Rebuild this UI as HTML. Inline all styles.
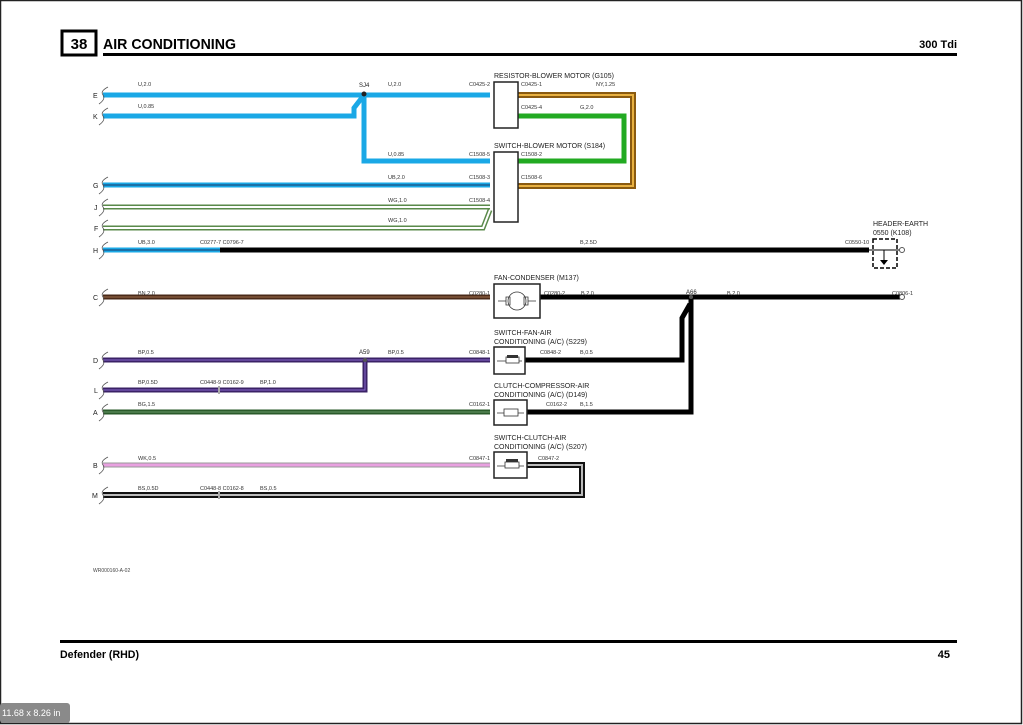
<!DOCTYPE html>
<html><head><meta charset="utf-8"><style>
html,body{margin:0;padding:0;background:#fff}
svg{display:block}
text{font-family:"Liberation Sans",sans-serif}
.s{font-size:5.5px;fill:#333}
.c{font-size:7px;fill:#222}
</style></head><body>
<svg width="1023" height="725" viewBox="0 0 1023 725" xmlns="http://www.w3.org/2000/svg">
<rect x="0.5" y="0.5" width="1021" height="723" fill="#fff" stroke="#222" stroke-width="1.5"/>
<!-- header -->
<rect x="62" y="31" width="34" height="24" fill="#fff" stroke="#000" stroke-width="3"/>
<text x="79" y="49" font-size="15" font-weight="bold" text-anchor="middle">38</text>
<text x="103" y="49" font-size="15" font-weight="bold" textLength="133" lengthAdjust="spacingAndGlyphs">AIR CONDITIONING</text>
<line x1="103" y1="54.5" x2="957" y2="54.5" stroke="#000" stroke-width="3"/>
<text x="957" y="48" font-size="11" font-weight="bold" text-anchor="end">300 Tdi</text>
<!-- footer -->
<line x1="60" y1="641.5" x2="957" y2="641.5" stroke="#000" stroke-width="3"/>
<text x="60" y="658" font-size="11" font-weight="bold" textLength="79" lengthAdjust="spacingAndGlyphs">Defender (RHD)</text>
<text x="950" y="658" font-size="11" font-weight="bold" text-anchor="end">45</text>
<text x="93" y="572" font-size="5" fill="#444">WR000160-A-02</text>
<rect x="0" y="703" width="70" height="20" rx="3" fill="#8a8a8a"/>
<text x="2" y="716" font-size="9" fill="#fff">11.68 x 8.26 in</text>

<g fill="none" stroke-linejoin="miter">
<path d="M103 95H490" stroke="#1aa8e6" stroke-width="5"/>
<path d="M103 116H354V108L364 95" stroke="#1aa8e6" stroke-width="5"/>
<path d="M364 95V161H490" stroke="#1aa8e6" stroke-width="5"/>
<path d="M103 185H490" stroke="#1aa8e6" stroke-width="5"/>
<path d="M103 185H490" stroke="#1a3a6a" stroke-width="1"/>
<path d="M103 207H490" stroke="#5a8a4a" stroke-width="5"/>
<path d="M103 207H490" stroke="#fff" stroke-width="2"/>
<path d="M103 228H483L490 210" stroke="#5a8a4a" stroke-width="5"/>
<path d="M103 228H483L490 210" stroke="#fff" stroke-width="2"/>
<path d="M103 250H220" stroke="#1aa8e6" stroke-width="5"/>
<path d="M103 250H220" stroke="#1a3a6a" stroke-width="1"/>
<path d="M220 250H869" stroke="#000" stroke-width="5"/>
<path d="M518 95H633V186H518" stroke="#8a5a10" stroke-width="6"/>
<path d="M518 95H633V186H518" stroke="#e8b040" stroke-width="2"/>
<path d="M518 116H624V161H518" stroke="#22aa22" stroke-width="5"/>
<path d="M103 297H490" stroke="#4a2a18" stroke-width="5"/>
<path d="M103 297H490" stroke="#a07050" stroke-width="1"/>
<path d="M540 297H900" stroke="#000" stroke-width="5"/>
<path d="M103 360H490" stroke="#3a2266" stroke-width="5"/>
<path d="M103 360H490" stroke="#8a6ad0" stroke-width="1"/>
<path d="M103 390H365V360" stroke="#3a2266" stroke-width="5"/>
<path d="M103 390H365V360" stroke="#8a6ad0" stroke-width="1"/>
<path d="M525 360H682V318L690 304" stroke="#000" stroke-width="5"/>
<path d="M103 412H490" stroke="#2a5a2a" stroke-width="5"/>
<path d="M103 412H490" stroke="#6a9a6a" stroke-width="1"/>
<path d="M527 412H691V297" stroke="#000" stroke-width="5"/>
<path d="M103 465H490" stroke="#999" stroke-width="5"/>
<path d="M103 465H490" stroke="#e8a0e0" stroke-width="3"/>
<path d="M527 465H582V495H103" stroke="#111" stroke-width="6"/>
<path d="M527 465H582V495H103" stroke="#bbb" stroke-width="2"/>
</g>
<circle cx="364" cy="94" r="2.5" fill="#222"/>
<circle cx="365" cy="360" r="2" fill="#555"/>
<circle cx="691" cy="297" r="2" fill="#555"/>
<g fill="#aaa"><rect x="218" y="386" width="2" height="8"/><rect x="218" y="491" width="2" height="8"/></g>
<g fill="none" stroke="#555" stroke-width="0.8">
<path d="M108 87Q100 91 103 95Q106 99 99 104"/><path d="M108 108Q100 112 103 116Q106 120 99 125"/>
<path d="M108 177Q100 181 103 185Q106 189 99 194"/><path d="M108 199Q100 203 103 207Q106 211 99 216"/>
<path d="M108 220Q100 224 103 228Q106 232 99 237"/><path d="M108 242Q100 246 103 250Q106 254 99 259"/>
<path d="M108 289Q100 293 103 297Q106 301 99 306"/><path d="M108 352Q100 356 103 360Q106 364 99 369"/>
<path d="M108 382Q100 386 103 390Q106 394 99 399"/><path d="M108 404Q100 408 103 412Q106 416 99 421"/>
<path d="M108 457Q100 461 103 465Q106 469 99 474"/><path d="M108 487Q100 491 103 495Q106 499 99 504"/>
</g>
<g class="c" font-size="7"><text x="93" y="98">E</text><text x="93" y="119">K</text><text x="93" y="188">G</text><text x="94" y="210">J</text><text x="94" y="231">F</text><text x="93" y="253">H</text><text x="93" y="300">C</text><text x="93" y="363">D</text><text x="94" y="393">L</text><text x="93" y="415">A</text><text x="93" y="468">B</text><text x="92" y="498">M</text></g>
<g fill="#fff" stroke="#222" stroke-width="1.5">
<rect x="494" y="82" width="24" height="46"/>
<rect x="494" y="152" width="24" height="70"/>
<rect x="494" y="284" width="46" height="34"/>
<rect x="494" y="347" width="31" height="27"/>
<rect x="494" y="400" width="33" height="25"/>
<rect x="494" y="452" width="33" height="26"/>
</g>
<g fill="none" stroke="#333" stroke-width="0.8">
<circle cx="517" cy="301" r="9"/><path d="M498 301H506M506 297h4v8h-4zM524 297h4v8h-4zM528 301H536"/>
<path d="M497 361H506M519 361H522"/><rect x="506" y="357" width="13" height="6"/>
<path d="M497 413H504M518 413H524"/><rect x="504" y="409" width="14" height="7"/>
<path d="M497 466H505M519 466H524"/><rect x="505" y="462" width="14" height="6"/>
</g>
<rect x="507" y="355" width="11" height="3" fill="#333"/>
<rect x="506" y="459" width="12" height="3" fill="#333"/>
<rect x="873" y="239" width="24" height="29" fill="none" stroke="#000" stroke-width="1.5" stroke-dasharray="4 2"/>
<path d="M869 250H900M884 250V262" stroke="#000" stroke-width="1"/>
<path d="M880 260H888L884 265Z" fill="#000"/>
<circle cx="902" cy="250" r="2.5" fill="#fff" stroke="#555"/>
<circle cx="902" cy="297" r="2.5" fill="#fff" stroke="#555"/>
<g class="c">
<text x="494" y="78">RESISTOR-BLOWER MOTOR (G105)</text>
<text x="494" y="148">SWITCH-BLOWER MOTOR (S184)</text>
<text x="494" y="280">FAN-CONDENSER (M137)</text>
<text x="494" y="335">SWITCH-FAN-AIR</text><text x="494" y="344">CONDITIONING (A/C) (S229)</text>
<text x="494" y="388">CLUTCH-COMPRESSOR-AIR</text><text x="494" y="397">CONDITIONING (A/C) (D149)</text>
<text x="494" y="440">SWITCH-CLUTCH-AIR</text><text x="494" y="449">CONDITIONING (A/C) (S207)</text>
<text x="873" y="226">HEADER-EARTH</text><text x="873" y="235">0550 (K108)</text>
<text x="359" y="87" font-size="6">SJ4</text><text x="359" y="354" font-size="6">A59</text><text x="686" y="294" font-size="6">A66</text>
</g>
<g class="s">
<text x="138" y="86">U,2.0</text><text x="388" y="86">U,2.0</text><text x="469" y="86">C0425-2</text>
<text x="521" y="86">C0425-1</text><text x="596" y="86">NY,1.25</text>
<text x="138" y="108">U,0.85</text><text x="521" y="109">C0425-4</text><text x="580" y="109">G,2.0</text>
<text x="388" y="156">U,0.85</text><text x="469" y="156">C1508-5</text><text x="521" y="156">C1508-2</text>
<text x="388" y="179">UB,2.0</text><text x="469" y="179">C1508-3</text><text x="521" y="179">C1508-6</text>
<text x="388" y="202">WG,1.0</text><text x="469" y="202">C1508-4</text>
<text x="388" y="222">WG,1.0</text>
<text x="138" y="244">UB,3.0</text><text x="200" y="244">C0277-7 C0796-7</text><text x="580" y="244">B,2.5D</text><text x="845" y="244">C0550-10</text>
<text x="138" y="295">BN,2.0</text><text x="469" y="295">C0280-1</text><text x="544" y="295">C0280-2</text><text x="581" y="295">B,2.0</text><text x="727" y="295">B,2.0</text><text x="892" y="295">C0806-1</text>
<text x="138" y="354">BP,0.5</text><text x="388" y="354">BP,0.5</text><text x="469" y="354">C0848-1</text><text x="540" y="354">C0848-2</text><text x="580" y="354">B,0.5</text>
<text x="138" y="384">BP,0.5D</text><text x="200" y="384">C0448-9 C0162-9</text><text x="260" y="384">BP,1.0</text>
<text x="138" y="406">BG,1.5</text><text x="469" y="406">C0162-1</text><text x="546" y="406">C0162-2</text><text x="580" y="406">B,1.5</text>
<text x="138" y="460">WK,0.5</text><text x="469" y="460">C0847-1</text><text x="538" y="460">C0847-2</text>
<text x="138" y="490">BS,0.5D</text><text x="200" y="490">C0448-8 C0162-8</text><text x="260" y="490">BS,0.5</text>
</g>
</svg>
</body></html>
